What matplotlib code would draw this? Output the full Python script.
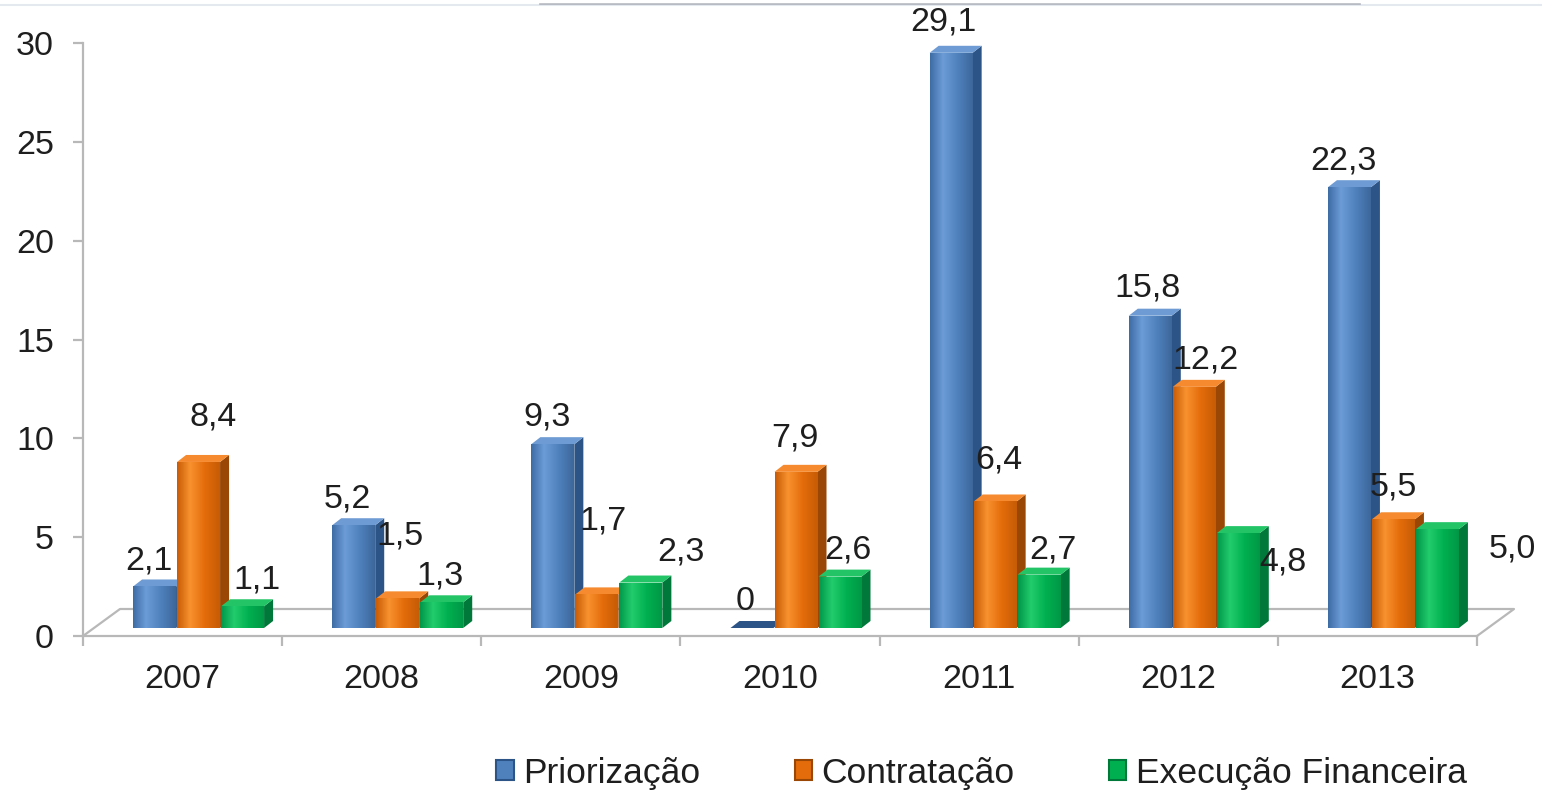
import matplotlib
matplotlib.use("Agg")
import numpy as np
import matplotlib.pyplot as plt
from matplotlib.patches import Polygon, Patch
from matplotlib.lines import Line2D
from matplotlib.colors import LinearSegmentedColormap

years = ['2007', '2008', '2009', '2010', '2011', '2012', '2013']
priorizacao = [2.1, 5.2, 9.3, 0, 29.1, 15.8, 22.3]
contratacao = [8.4, 1.5, 1.7, 7.9, 6.4, 12.2, 5.5]
execucao = [1.1, 1.3, 2.3, 2.6, 2.7, 4.8, 5.0]
series_names = ['Priorização', 'Contratação', 'Execução Financeira']

# label nudges in pixels (dx, dy) from the top centre of each bar
nudge_prio = [(-6, 25), (-6, 26), (-6, 27), (-7, 26), (-8, 31), (-3, 28), (-6, 26)]
nudge_contr = [(15, 45), (2, 62), (6, 73), (-1, 34), (4, 41), (11, 27), (0, 32)]
nudge_exec = [(14, 26), (-2, 26), (40, 31), (8, 27), (14, 25), (45, -29), (75, -20)]

front_colors = ['#4F81BD', '#E46C0A', '#00B050']
side_colors = ['#2D5486', '#9A4705', '#00783A']
top_colors = ['#6E9BD3', '#F58A2E', '#22C466']
# horizontal shading across the front face (edge, highlight, body, edge)
shades = [['#3E6CA5', '#6C9CD7', '#4F81BD', '#3D679B'],
          ['#C95C05', '#F8922F', '#E46C0A', '#C65C06'],
          ['#00974A', '#22CC6C', '#00B050', '#009846']]

plt.rcParams['font.family'] = ['Liberation Sans', 'DejaVu Sans']
text_color = '#1E1E1E'
grey = '#B8B8B8'

W, H = 1542, 790
fig = plt.figure(figsize=(W / 100, H / 100), dpi=100)
ax = fig.add_axes([83 / W, (H - 636) / H, 1394 / W, 593 / H])

# pixel -> data conversions for the fake 3d look
px_x = 1394 / 7
px_y = 593 / 30
sx, sy = 16 / px_x, 8 / px_y       # bars sit a little inside the floor
dx, dy = 9 / px_x, 7 / px_y        # bar depth
fdx, fdy = 37 / px_x, 27 / px_y    # floor depth
bw = 43 / px_x
step = 44 / px_x

# floor outline
ax.plot([-0.5, -0.5 + fdx, 6.5 + fdx, 6.5], [0, fdy, fdy, 0],
        color=grey, lw=1.6, clip_on=False, zorder=1)

all_series = [priorizacao, contratacao, execucao]
all_nudges = [nudge_prio, nudge_contr, nudge_exec]
grad = np.linspace(0, 1, 64).reshape(1, -1)

for i in range(len(years)):
    for j, vals in enumerate(all_series):
        v = vals[i]
        xc = i + (j - 1) * step + sx
        x0, x1 = xc - bw / 2, xc + bw / 2
        z = 2 + i * 3 + j
        side = Polygon([(x1, sy), (x1 + dx, sy + dy), (x1 + dx, sy + v + dy), (x1, sy + v)],
                       closed=True, facecolor=side_colors[j], edgecolor='none', zorder=z)
        top = Polygon([(x0, sy + v), (x1, sy + v), (x1 + dx, sy + v + dy), (x0 + dx, sy + v + dy)],
                      closed=True, facecolor=top_colors[j] if v > 0 else side_colors[j],
                      edgecolor='none', zorder=z)
        ax.add_patch(side)
        ax.add_patch(top)
        bars = ax.bar(xc, v, bottom=sy, width=bw, color=front_colors[j], zorder=z)
        if v > 0:
            cmap = LinearSegmentedColormap.from_list('s', list(zip([0, 0.3, 0.65, 1], shades[j])))
            im = ax.imshow(grad, cmap=cmap, extent=(x0, x1, sy, sy + v), aspect='auto',
                           interpolation='bilinear', zorder=z + 0.1)
            im.set_clip_path(bars.patches[0])

        ndx, ndy = all_nudges[j][i]
        lab = ('%.1f' % v).replace('.', ',') if v != 0 else '0'
        ax.annotate(lab, (xc, sy + v), xytext=(ndx, ndy), textcoords='offset pixels',
                    ha='center', va='center', fontsize=24.5, color=text_color, zorder=40,
                    annotation_clip=False)

ax.set_xlim(-0.5, 6.5)
ax.set_ylim(0, 30)

# axes styling
for s in ['top', 'right']:
    ax.spines[s].set_visible(False)
for s in ['left', 'bottom']:
    ax.spines[s].set_color(grey)
    ax.spines[s].set_linewidth(1.6)
ax.spines['bottom'].set_zorder(1)

ax.set_yticks(range(0, 31, 5))
ax.tick_params(axis='y', direction='out', length=7, width=1.6, color=grey,
               labelsize=24.5, labelcolor=text_color, pad=14)
ax.set_xticks(range(len(years)))
ax.set_xticklabels(years)
ax.set_xticks([k - 0.5 for k in range(len(years) + 1)], minor=True)
ax.tick_params(axis='x', which='major', length=0, labelsize=24.5, labelcolor=text_color, pad=20)
ax.tick_params(axis='x', which='minor', direction='out', length=7, width=1.6, color=grey)

handles = [Patch(facecolor=front_colors[j], edgecolor=side_colors[j], linewidth=1.5)
           for j in range(3)]
fig.legend(handles, series_names, loc='center', bbox_to_anchor=(0.6365, 0.021), ncol=3,
           frameon=False, fontsize=25.5, labelcolor=text_color, handlelength=0.5,
           handleheight=0.5, handletextpad=0.26, columnspacing=2.66)

# faint screenshot edge at the top
fig.add_artist(Line2D([0, 1], [1 - 5 / H, 1 - 5 / H], color='#E4E9F0', lw=1.5))
fig.add_artist(Line2D([540 / W, 1360 / W], [1 - 4 / H, 1 - 4 / H], color='#8A8F99', lw=1.2, alpha=0.6))

fig.savefig('out.png', dpi=100)
